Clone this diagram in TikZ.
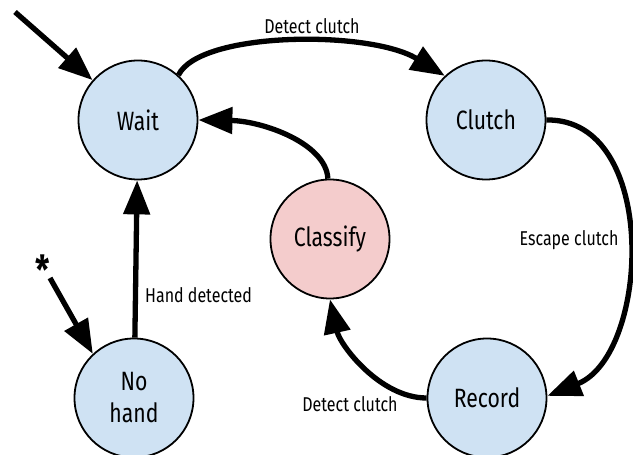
\documentclass[tikz,border=0pt]{standalone}
\usepackage{fontspec}
\setmainfont{Fira Sans}[FakeStretch=0.8]
\usetikzlibrary{arrows.meta}
\definecolor{stblue}{HTML}{CFE2F3}
\definecolor{stred}{HTML}{F4CCCC}
\begin{document}
\begin{tikzpicture}[x=1pt,y=1pt,
  state/.style={circle,draw,line width=1.8pt,minimum size=119pt,inner sep=0pt,
    font=\fontsize{26.5}{32}\selectfont,align=center},
  trans/.style={line width=5.3pt,-{Triangle[length=34pt,width=26pt]}},
  lbl/.style={font=\fontsize{20}{24}\selectfont,inner sep=0pt}]
\path[use as bounding box] (0,0) rectangle (633,455);
\node[state,fill=stblue] (wait) at (138,335) {Wait};
\node[state,fill=stblue] (clutch) at (486,335) {Clutch};
\node[state,fill=stred] (classify) at (330,216) {Classify};
\node[state,fill=stblue] (nohand) at (134,57) {No\\hand};
\node[state,fill=stblue] (record) at (487,57) {Record};
\coordinate (init) at (15,443);
\coordinate (starstart) at (50,177);
\node[font=\bfseries\fontsize{40}{40}\selectfont,inner sep=0pt] (star) at (43,185) {*};
\draw[trans] (init) -- (wait);
\draw[trans] (starstart) -- (nohand.133);
\draw[trans] (wait.48) .. controls (200,424) and (370,425) .. (clutch.133);
\draw[trans] (clutch.0) .. controls (660,337) and (650,100) .. (record.2);
\draw[trans] (record.180) .. controls (380,57) and (340,110) .. (classify.270);
\draw[trans] (classify.92) .. controls (326,312) and (262,334) .. (wait.0);
\draw[trans] (nohand) -- (wait);
\node[lbl] (l1) at (312,429) {Detect clutch};
\node[lbl] (l2) at (569,215) {Escape clutch};
\node[lbl] (l3) at (350,51) {Detect clutch};
\node[lbl,anchor=west] (l4) at (145,160) {Hand detected};
\end{tikzpicture}
\end{document}
